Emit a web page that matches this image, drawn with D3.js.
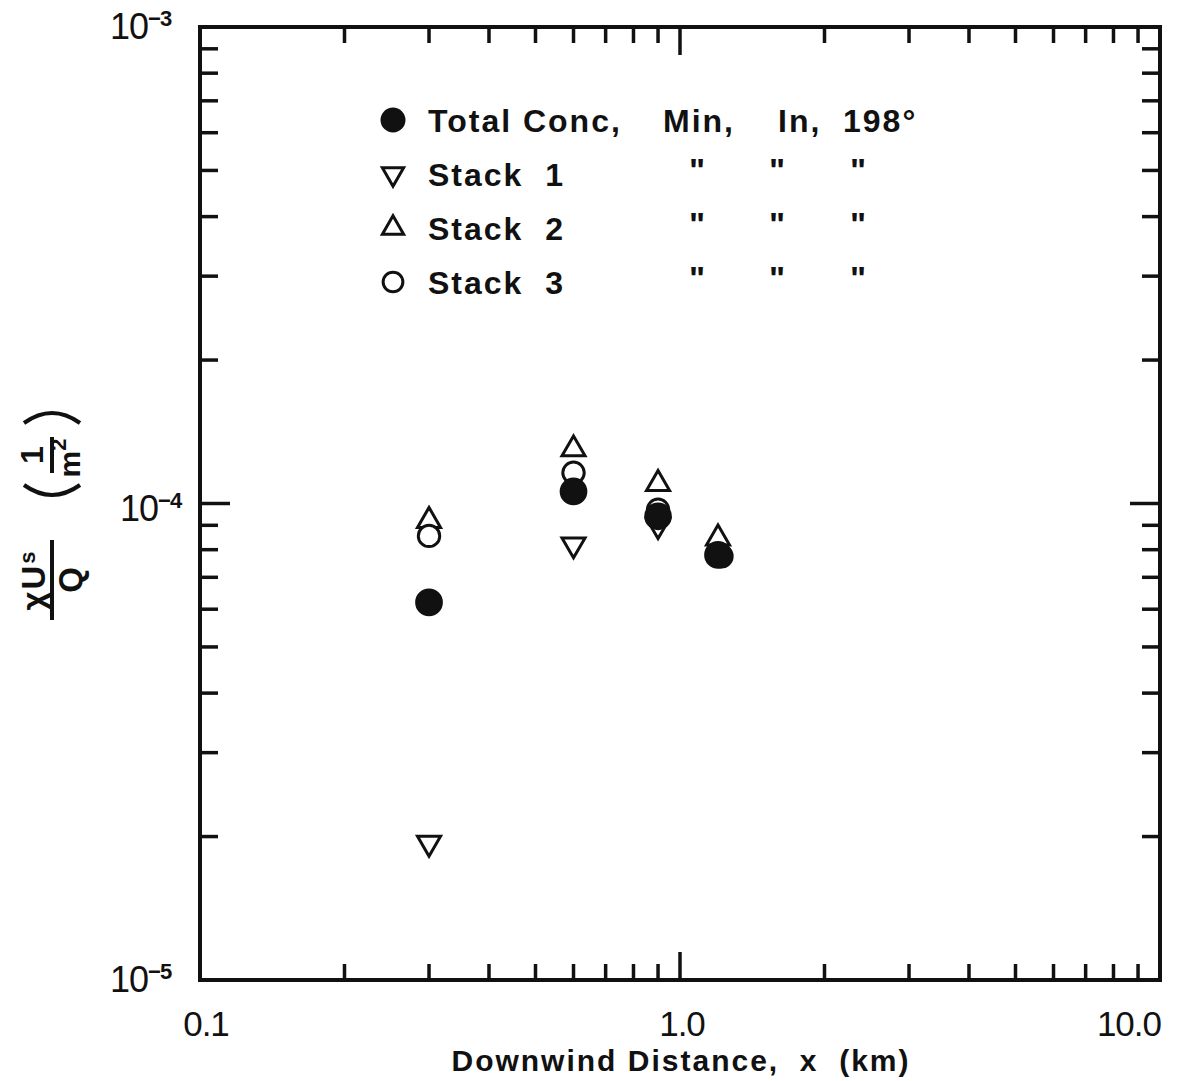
<!DOCTYPE html>
<html lang="en">
<head>
<meta charset="UTF-8">
<title>Downwind Distance</title>
<script src="https://cdn.jsdelivr.net/npm/d3@7"></script>
<style>
  body { margin: 0; background: #fff; }
  text { font-family: "Liberation Sans", Arial, sans-serif; font-weight: bold; fill: #111; white-space: pre; }
</style>
</head>
<body>
<svg id="main" width="1200" height="1081"></svg>
<script>
    // data
    const xDomain = [0.1, 10];
    const yDomain = [1e-5, 1e-3];
    const xTickLabels = [{v: 0.1, t: '0.1'}, {v: 1, t: '1.0'}, {v: 10, t: '10.0'}];
    const yTickLabels = [{v: 1e-3, e: '-3'}, {v: 1e-4, e: '-4'}, {v: 1e-5, e: '-5'}];

    const totalConc = [[0.3, 6.2e-5], [0.6, 1.06e-4], [0.9, 9.4e-5], [1.2, 7.8e-5]];
    const stack1 = [[0.3, 1.94e-5], [0.6, 8.2e-5], [0.9, 9.0e-5]];
    const stack2 = [[0.3, 9.2e-5], [0.6, 1.3e-4], [0.9, 1.1e-4], [1.2, 8.45e-5]];
    const stack3 = [[0.3, 8.55e-5], [0.6, 1.16e-4], [0.9, 9.7e-5], [1.22, 7.75e-5]];

    let svg = d3.select('svg#main');
    let mLeft = 200, mRight = 1160, mTop = 27, mBottom = 980;

    let x = d3.scaleLog().domain(xDomain).range([mLeft, mRight]);
    let y = d3.scaleLog().domain(yDomain).range([mBottom, mTop]);

    // frame
    svg.append('rect')
        .attr('x', mLeft).attr('y', mTop)
        .attr('width', mRight - mLeft).attr('height', mBottom - mTop)
        .attr('fill', 'none').attr('stroke', '#111').attr('stroke-width', 4);

    // inward ticks on all four sides
    let isMajor = v => Math.abs(Math.log10(v) - Math.round(Math.log10(v))) < 1e-6;
    let xt = x.ticks().filter(v => v > xDomain[0] && v < xDomain[1]);
    let yt = y.ticks().filter(v => v > yDomain[0] && v < yDomain[1]);
    let ticks = svg.append('g').attr('stroke', '#111').attr('stroke-width', 3.5);
    xt.forEach(v => {
        let len = isMajor(v) ? 28 : 16;
        ticks.append('line').attr('x1', x(v)).attr('x2', x(v)).attr('y1', mBottom).attr('y2', mBottom - len);
        ticks.append('line').attr('x1', x(v)).attr('x2', x(v)).attr('y1', mTop).attr('y2', mTop + len);
    });
    yt.forEach(v => {
        let len = isMajor(v) ? 30 : 18;
        ticks.append('line').attr('y1', y(v)).attr('y2', y(v)).attr('x1', mLeft).attr('x2', mLeft + len);
        ticks.append('line').attr('y1', y(v)).attr('y2', y(v)).attr('x1', mRight).attr('x2', mRight - len);
    });

    // x tick labels
    svg.selectAll('.xlab').data(xTickLabels).enter().append('text')
        .attr('class', 'xlab')
        .attr('x', (d, i) => i === 0 ? x(d.v) + 6 : i === 2 ? x(d.v) + 1 : x(d.v) + 2)
        .attr('y', 1036)
        .attr('text-anchor', (d, i) => i === 2 ? 'end' : 'middle')
        .style('font-size', '35px').style('font-weight', 'normal').style('letter-spacing', '-1px')
        .text(d => d.t);

    // y tick labels 10^-n
    let ylab = svg.selectAll('.ylab').data(yTickLabels).enter().append('text')
        .attr('class', 'ylab')
        .attr('x', (d, i) => i === 1 ? 120 : 110)
        .attr('y', (d, i) => i === 0 ? 39 : i === 1 ? 521 : 992)
        .style('font-size', '36px').style('font-weight', 'normal').style('letter-spacing', '-1px');
    ylab.append('tspan').text('10');
    ylab.append('tspan').attr('dy', -13).style('font-size', '22px').style('font-weight', 'bold').text(d => '\u2212' + d.e.slice(1));

    // axis title
    svg.append('text').attr('x', 681).attr('y', 1071).attr('text-anchor', 'middle')
        .style('font-size', '30px').style('letter-spacing', '2px')
        .text('Downwind Distance,  x  (km)');

    // y axis title (rotated)
    let yt1 = svg.append('g').attr('transform', 'translate(52,580) rotate(-90)');
    yt1.append('text').attr('x', 0).attr('y', -7).attr('text-anchor', 'middle')
        .style('font-size', '33px').style('letter-spacing', '2px').text('\u03c7U')
        .append('tspan').attr('dy', -10).style('font-size', '22px').text('s');
    yt1.append('line').attr('x1', -40).attr('x2', 40).attr('y1', 0).attr('y2', 0)
        .attr('stroke', '#111').attr('stroke-width', 4);
    yt1.append('text').attr('x', 0).attr('y', 30).attr('text-anchor', 'middle')
        .style('font-size', '33px').text('Q');

    let yt2 = svg.append('g').attr('transform', 'translate(52,455) rotate(-90)');
    yt2.append('text').attr('x', 0).attr('y', -9).attr('text-anchor', 'middle')
        .style('font-size', '32px').text('1');
    yt2.append('line').attr('x1', -18).attr('x2', 18).attr('y1', 0).attr('y2', 0)
        .attr('stroke', '#111').attr('stroke-width', 4);
    yt2.append('text').attr('x', -3).attr('y', 28).attr('text-anchor', 'middle')
        .style('font-size', '30px').text('m')
        .append('tspan').attr('dy', -14).style('font-size', '22px').text('2');
    yt2.append('path').attr('d', 'M-30,-28 Q-50,0 -30,28')
        .attr('fill', 'none').attr('stroke', '#111').attr('stroke-width', 4);
    yt2.append('path').attr('d', 'M32,-28 Q52,0 32,28')
        .attr('fill', 'none').attr('stroke', '#111').attr('stroke-width', 4);

    // markers
    const series = [
        {data: stack1, type: d3.symbolTriangle, size: 230, fill: '#fff', rot: 180},
        {data: stack2, type: d3.symbolTriangle, size: 230, fill: '#fff', rot: 0},
        {data: stack3, type: d3.symbolCircle, size: 360, fill: '#fff', rot: 0},
        {data: totalConc, type: d3.symbolCircle, size: 480, fill: '#111', rot: 0}
    ];
    series.forEach(s => {
        svg.append('g').selectAll('path').data(s.data).enter().append('path')
            .attr('d', d3.symbol().type(s.type).size(s.size))
            .attr('transform', d => 'translate(' + x(d[0]) + ',' + y(d[1]) + ') rotate(' + s.rot + ')')
            .attr('fill', s.fill).attr('stroke', '#111').attr('stroke-width', 3);
    });

    // legend
    const legendRows = [
        {label: 'Total Conc,', s: series[3], ditto: false},
        {label: 'Stack  1', s: series[0], ditto: true},
        {label: 'Stack  2', s: series[1], ditto: true},
        {label: 'Stack  3', s: series[2], ditto: true}
    ];
    let lg = svg.selectAll('.lg').data(legendRows).enter().append('g')
        .attr('class', 'lg')
        .attr('transform', (d, i) => 'translate(0,' + (120 + i * 54) + ')');
    lg.append('path')
        .attr('d', d => d3.symbol().type(d.s.type).size(d.s === series[3] ? 380 : d.s.size * 0.85)())
        .attr('transform', d => 'translate(393,0) rotate(' + d.s.rot + ')')
        .attr('fill', d => d.s.fill).attr('stroke', '#111').attr('stroke-width', 3);
    lg.append('text').attr('x', 428).attr('y', 12)
        .style('font-size', '32px').style('letter-spacing', '2px')
        .text(d => d.label);
    const headerCols = [{x: 663, t: 'Min,'}, {x: 778, t: 'In,'}, {x: 843, t: '198\u00b0'}];
    const dittoCols = [697, 777, 858];
    svg.selectAll('.hdr').data(headerCols).enter().append('text')
        .attr('x', d => d.x).attr('y', 132)
        .style('font-size', '32px').style('letter-spacing', '2px')
        .text(d => d.t);
    lg.filter(d => d.ditto).selectAll('.dt').data(dittoCols).enter().append('text')
        .attr('x', d => d).attr('y', 8).attr('text-anchor', 'middle')
        .style('font-size', '34px')
        .text('"');
</script>
</body>
</html>
